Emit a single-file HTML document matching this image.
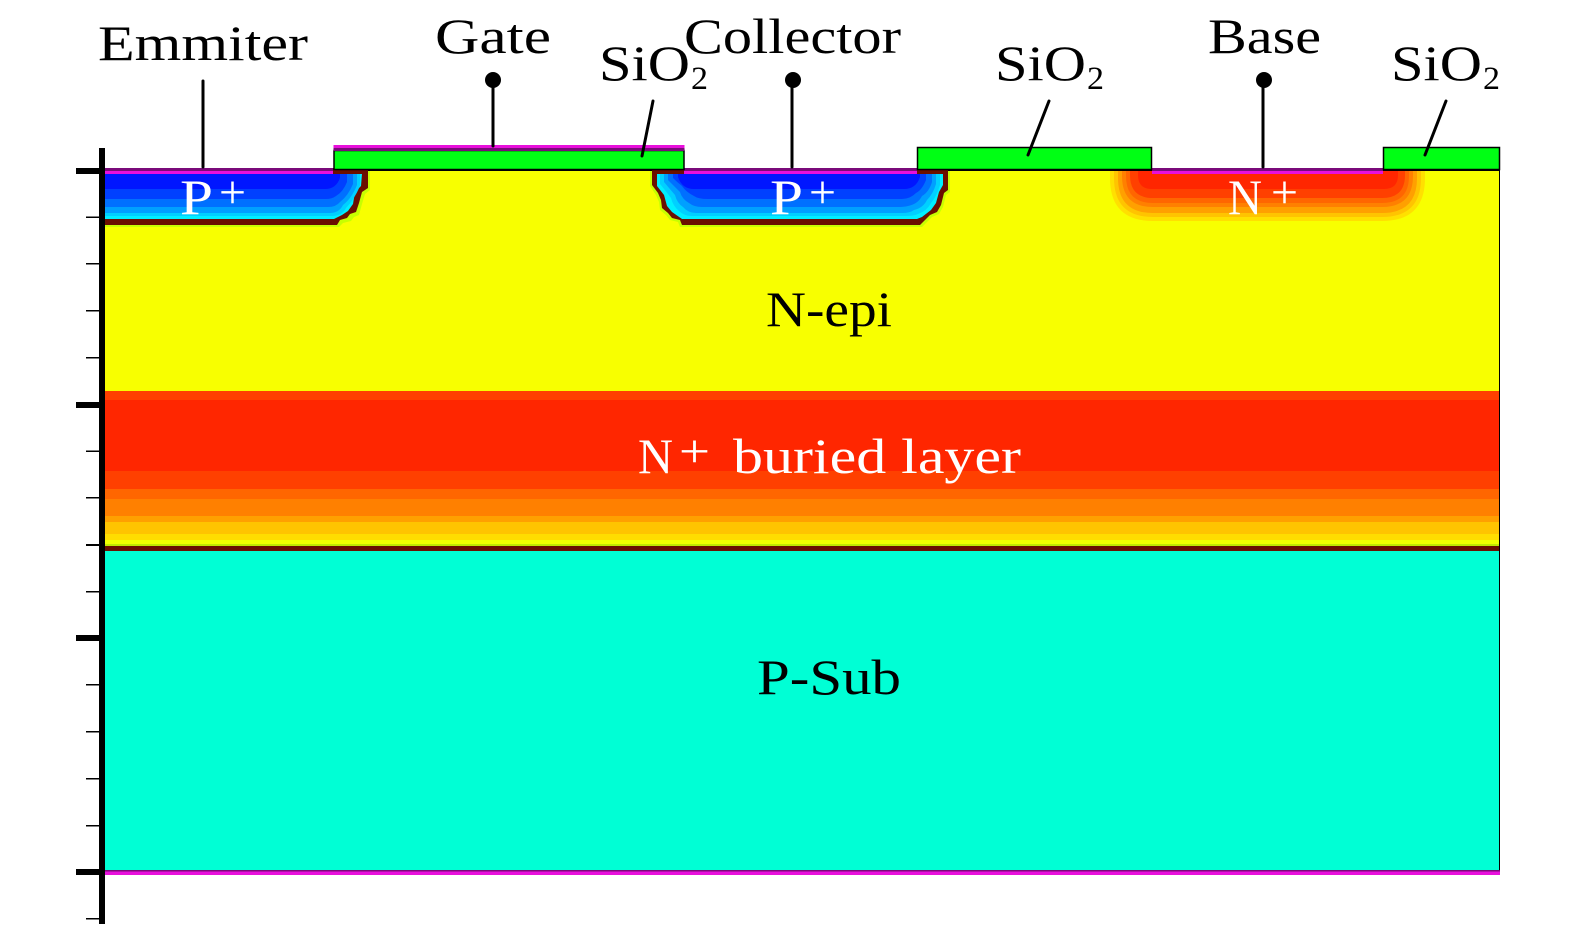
<!DOCTYPE html>
<html><head><meta charset="utf-8"><style>
html,body{margin:0;padding:0;background:#fff}
svg{display:block}
text{font-family:"Liberation Serif",serif;font-size:50px;fill:#000}
.w{fill:#fff}
.s{font-size:33px}
.p{font-size:47px}
</style></head><body>
<svg width="1575" height="935" viewBox="0 0 1575 935" xmlns="http://www.w3.org/2000/svg">
<!-- layers -->
<rect x="105" y="170" width="1395" height="221" fill="#f8ff00"/>
<rect x="105" y="391" width="1395" height="9" fill="#ff4000"/>
<rect x="105" y="400" width="1395" height="71" fill="#ff2600"/>
<rect x="105" y="471" width="1395" height="18" fill="#ff4000"/>
<rect x="105" y="489" width="1395" height="10" fill="#ff6600"/>
<rect x="105" y="499" width="1395" height="17" fill="#ff8000"/>
<rect x="105" y="516" width="1395" height="6" fill="#ffa000"/>
<rect x="105" y="522" width="1395" height="12" fill="#ffc400"/>
<rect x="105" y="534" width="1395" height="6" fill="#ffdd00"/>
<rect x="105" y="540" width="1395" height="4" fill="#f0ff00"/>
<rect x="105" y="544" width="1395" height="2" fill="#c0e800"/>
<rect x="105" y="546" width="1395" height="5" fill="#6b0f00"/>
<rect x="105" y="551" width="1395" height="319" fill="#00ffd5"/>
<rect x="105" y="870" width="1395" height="1.5" fill="#7a0a7a"/>
<rect x="105" y="871.5" width="1395" height="3.5" fill="#e80fdc"/>
<rect x="1499" y="170" width="1" height="700" fill="#000"/>

<!-- N+ -->
<path d="M1110 170 H1425 V178 Q1425 221 1382 221 H1153 Q1110 221 1110 178Z" fill="#ffe000"/>
<path d="M1114 170 H1421 V178 Q1421 217 1382 217 H1153 Q1114 217 1114 178Z" fill="#ffc400"/>
<path d="M1118 170 H1417 V178 Q1417 213 1382 213 H1153 Q1118 213 1118 178Z" fill="#ffa000"/>
<path d="M1122 170 H1413 V176 Q1413 207 1382 207 H1153 Q1122 207 1122 176Z" fill="#ff8000"/>
<path d="M1126 170 H1409 V176 Q1409 203 1382 203 H1153 Q1126 203 1126 176Z" fill="#ff6600"/>
<path d="M1130 170 H1405 V175 Q1405 198 1382 198 H1153 Q1130 198 1130 175Z" fill="#ff4000"/>
<path d="M1138 170 H1398 V175 Q1398 189 1384 189 H1152 Q1138 189 1138 175Z" fill="#ff2600"/>

<!-- Emitter P+ -->
<path d="M105 227 H339 L343 223 L351 221 L354 217 L359 215 L362 204 L365 194 L370 190 L370 170 H105Z" fill="#c8ff00"/>
<path d="M105 225 H337 L340 220 L347 218 L350 214 L356 212 L359 203 L362 192 L368 188 L368 168 H333 V174 H105Z" fill="#6b0f00"/>
<path d="M105 174 H362 L361 186 L355 192 L353 204 L348 211 L342 215 L334 219 H105Z" fill="#00f0ff"/>
<path d="M105 174 H360 V186 Q354 200 346 208 Q342 216 332 216 H105Z" fill="#00d0ff"/>
<path d="M105 174 H357 V185 Q352 198 343 205 Q339 213 330 213 H105Z" fill="#00a0ff"/>
<path d="M105 174 H353 V184 Q348 196 340 202 Q336 207 328 207 H105Z" fill="#0070ff"/>
<path d="M105 174 H347 V182 Q343 192 336 196 Q332 199 326 199 H105Z" fill="#0040ff"/>
<path d="M105 174 H340 V178 Q336 189 325 189 H105Z" fill="#0016ff"/>

<!-- Collector P+ -->
<path d="M650 170 V186 L656 195 L659 202 L660 210 L666 215 L670 220 L678 222 L680 227 H922 L927 222 L932 217 L939 214 L943 207 L946 195 L950 192 V170Z" fill="#c8ff00"/>
<path d="M652 168 V185 L658 193 L661 200 L662 208 L668 213 L672 218 L680 220 L682 225 H920 L925 220 L930 215 L937 212 L941 205 L944 193 L948 190 V168 H917 V174 H684 V168Z" fill="#6b0f00"/>
<path d="M657 174 H943 V185 L939 192 L936 203 L931 210 L922 217 L917 219 H682 L672 212 L667 206 L664 195 L657 186Z" fill="#00f0ff"/>
<path d="M660 174 H940 V185 Q937 196 931 203 Q927 211 918 214 Q914 216 906 216 H692 Q684 216 679 211 Q673 206 671 198 Q665 190 660 184Z" fill="#00d0ff"/>
<path d="M664 174 H936 V184 Q933 194 927 200 Q923 208 914 210 Q910 213 902 213 H696 Q688 213 683 207 Q677 203 675 195 Q669 188 664 182Z" fill="#00a0ff"/>
<path d="M668 174 H932 V182 Q929 192 922 196 Q918 204 908 206 Q904 207 898 207 H702 Q694 207 689 203 Q682 199 680 192 Q674 186 668 180Z" fill="#0070ff"/>
<path d="M673 174 H926 V180 Q922 190 916 193 Q910 199 902 199 H708 Q698 199 694 196 Q686 192 682 186 Q677 182 673 178Z" fill="#0040ff"/>
<path d="M678 174 H920 V177 Q916 189 904 189 H694 Q682 189 678 177Z" fill="#0016ff"/>

<!-- top black line -->
<rect x="368" y="169" width="284" height="2" fill="#000"/>
<rect x="948" y="169" width="552" height="2" fill="#000"/>

<!-- contacts -->
<rect x="105" y="168" width="228" height="3" fill="#7a0a7a"/>
<rect x="105" y="171" width="228" height="3" fill="#e80fdc"/>
<rect x="684" y="168" width="233" height="3" fill="#7a0a7a"/>
<rect x="684" y="171" width="233" height="3" fill="#e80fdc"/>
<rect x="1152" y="168" width="231" height="3" fill="#7a0a7a"/>
<rect x="1152" y="171" width="231" height="3" fill="#e80fdc"/>

<!-- oxide -->
<rect x="334" y="150.5" width="350" height="19" fill="#00ff14" stroke="#000" stroke-width="1.5"/>
<rect x="333.5" y="145" width="351" height="3" fill="#e80fdc"/>
<rect x="333.5" y="148" width="351" height="3" fill="#7a0a7a"/>
<rect x="917.5" y="147.5" width="234" height="22" fill="#00ff14" stroke="#000" stroke-width="1.5"/>
<rect x="1383.5" y="147.5" width="116" height="22" fill="#00ff14" stroke="#000" stroke-width="1.5"/>

<!-- axis -->
<rect x="99" y="148" width="6" height="776" fill="#000"/>
<g fill="#000">
<rect x="76" y="168" width="23" height="6"/>
<rect x="76" y="402" width="23" height="6"/>
<rect x="76" y="635" width="23" height="6"/>
<rect x="76" y="869" width="23" height="6"/>
<rect x="86" y="216.5" width="13" height="1.5"/>
<rect x="86" y="263" width="13" height="1.5"/>
<rect x="86" y="310" width="13" height="1.5"/>
<rect x="86" y="357" width="13" height="1.5"/>
<rect x="86" y="450.5" width="13" height="1.5"/>
<rect x="86" y="497" width="13" height="1.5"/>
<rect x="86" y="544" width="13" height="2"/>
<rect x="86" y="591" width="13" height="1.5"/>
<rect x="86" y="684" width="13" height="1.5"/>
<rect x="86" y="731" width="13" height="1.5"/>
<rect x="86" y="778" width="13" height="1.5"/>
<rect x="86" y="825" width="13" height="1.5"/>
<rect x="86" y="918" width="13" height="1.5"/>
</g>

<!-- leaders -->
<g stroke="#000" stroke-width="3" fill="none" stroke-linecap="round">
<line x1="203" y1="81" x2="203" y2="167"/>
<line x1="493" y1="80" x2="493" y2="146"/>
<line x1="792" y1="80" x2="792" y2="167"/>
<line x1="1263" y1="80" x2="1263" y2="167"/>
<line x1="653" y1="101" x2="642" y2="156"/>
<line x1="1049" y1="101" x2="1028" y2="155"/>
<line x1="1446" y1="101" x2="1425" y2="155"/>
</g>
<circle cx="493" cy="80" r="8"/>
<circle cx="793" cy="80" r="8"/>
<circle cx="1264" cy="80" r="8"/>

<!-- labels -->
<text x="98" y="60" textLength="210" lengthAdjust="spacingAndGlyphs">Emmiter</text>
<text x="435" y="53" textLength="116" lengthAdjust="spacingAndGlyphs">Gate</text>
<text x="684" y="53" textLength="217" lengthAdjust="spacingAndGlyphs">Collector</text>
<text x="1208" y="53" textLength="113" lengthAdjust="spacingAndGlyphs">Base</text>
<text x="599" y="80" textLength="91" lengthAdjust="spacingAndGlyphs">SiO</text>
<text class="s" x="691" y="89" textLength="17" lengthAdjust="spacingAndGlyphs">2</text>
<text x="995" y="80" textLength="91" lengthAdjust="spacingAndGlyphs">SiO</text>
<text class="s" x="1087" y="89" textLength="17" lengthAdjust="spacingAndGlyphs">2</text>
<text x="1391" y="80" textLength="91" lengthAdjust="spacingAndGlyphs">SiO</text>
<text class="s" x="1483" y="89" textLength="17" lengthAdjust="spacingAndGlyphs">2</text>

<text class="w" x="180" y="214" textLength="33" lengthAdjust="spacingAndGlyphs">P</text>
<text class="w p" x="219" y="208" textLength="27" lengthAdjust="spacingAndGlyphs">+</text>
<text class="w" x="770" y="214" textLength="33" lengthAdjust="spacingAndGlyphs">P</text>
<text class="w p" x="809" y="208" textLength="27" lengthAdjust="spacingAndGlyphs">+</text>
<text class="w" x="1228" y="214" textLength="34" lengthAdjust="spacingAndGlyphs">N</text>
<text class="w p" x="1271" y="208" textLength="27" lengthAdjust="spacingAndGlyphs">+</text>

<text x="766" y="326" textLength="126" lengthAdjust="spacingAndGlyphs">N-epi</text>
<text class="w" x="638" y="473" textLength="35" lengthAdjust="spacingAndGlyphs">N</text>
<text class="w p" x="679" y="467" textLength="31" lengthAdjust="spacingAndGlyphs">+</text>
<text class="w" x="733" y="473" textLength="288" lengthAdjust="spacingAndGlyphs">buried layer</text>
<text x="757" y="694" textLength="144" lengthAdjust="spacingAndGlyphs">P-Sub</text>
</svg>
</body></html>
